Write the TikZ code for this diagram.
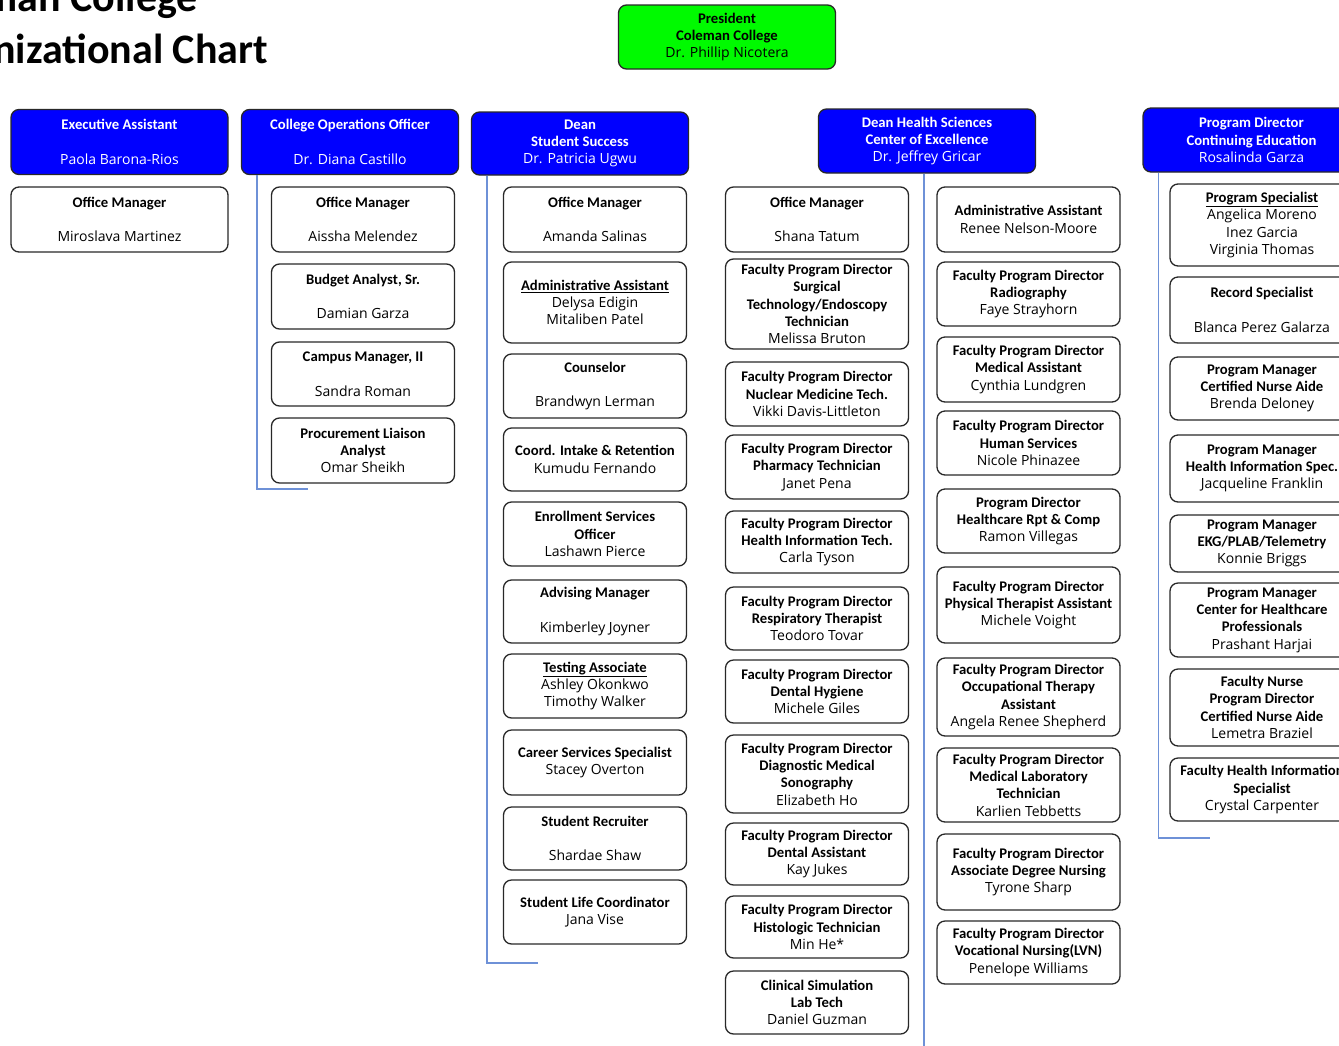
\documentclass[tikz,border=0pt]{standalone}
\usepackage{fontspec}
\setmainfont{Carlito}
\newfontfamily\namefont{Open Sans}
\usetikzlibrary{positioning}
\definecolor{headblue}{RGB}{0,0,255}
\definecolor{presgreen}{RGB}{0,250,0}
\definecolor{linkblue}{RGB}{110,145,215}
\definecolor{boxline}{RGB}{40,40,40}
\newcommand{\nm}[1]{{\namefont\mdseries\fontsize{14}{17.3}\selectfont #1}}
\tikzset{
	card/.style = {draw=boxline, line width=1.3pt, rounded corners=8pt, fill=white, align=center, inner sep=1pt, minimum width=183pt, font=\fontsize{14.7}{17.3}\selectfont\bfseries},
	head/.style = {card, fill=headblue, text=white, minimum width=217pt},
	link/.style = {draw=linkblue, line width=1.3pt},
}

\begin{document}
\begin{tikzpicture}[x=1pt, y=-1pt]
	\useasboundingbox (0,0) rectangle (1339,1045);
	\clip (0,0) rectangle (1339,1045);
	
	% Title
	\node[anchor=base east, inner sep=0pt, font=\fontsize{42}{50}\selectfont\bfseries] (title1) at (198,11) {Coleman College};
	\node[anchor=base east, inner sep=0pt, font=\fontsize{42}{50}\selectfont\bfseries] (title2) at (268,63) {Organizational Chart};
	
	% President
	\node[head, fill=presgreen, text=black, minimum height=64pt] (pres) at (727,37) {President\\Coleman College\\\nm{Dr. Phillip Nicotera}};
	
	% Executive Assistant
	\node[head, minimum height=65pt] (exec) at (119.5,142) {Executive Assistant\\[17.3pt]\nm{Paola Barona-Rios}};
	\node[card, minimum width=217pt, minimum height=65pt] (om1) at (119.5,219.5) {Office Manager\\[17.3pt]\nm{Miroslava Martinez}};
	
	% College Operations
	\node[head, minimum height=65pt] (ops) at (350,142) {College Operations Officer\\[17.3pt]\nm{Dr. Diana Castillo}};
	\node[card, minimum height=65pt] (om2) at (363,219.5) {Office Manager\\[17.3pt]\nm{Aissha Melendez}};
	\node[card, minimum height=65pt] (budget) at (363,296.5) {Budget Analyst, Sr.\\[17.3pt]\nm{Damian Garza}};
	\node[card, minimum height=64pt] (campus) at (363,374) {Campus Manager, II\\[17.3pt]\nm{Sandra Roman}};
	\node[card, minimum height=65pt] (procure) at (363,450.5) {Procurement Liaison\\Analyst\\\nm{Omar Sheikh}};
	
	% Dean Student Success
	\node[head, minimum height=63pt] (dss) at (580,143.5) {Dean\\Student Success\\\nm{Dr. Patricia Ugwu}};
	\node[card, minimum height=65pt] (om3) at (595,219.5) {Office Manager\\[17.3pt]\nm{Amanda Salinas}};
	\node[card, minimum height=81pt] (admin3) at (595,302.5) {\underline{Administrative Assistant}\\\nm{Delysa Edigin}\\\nm{Mitaliben Patel}};
	\node[card, minimum height=64pt] (couns) at (595,386) {Counselor\\[17.3pt]\nm{Brandwyn Lerman}};
	\node[card, minimum height=63pt] (coord) at (595,459.5) {Coord. Intake \& Retention\\\nm{Kumudu Fernando}};
	\node[card, minimum height=64pt] (enroll) at (595,534) {Enrollment Services\\Officer\\\nm{Lashawn Pierce}};
	\node[card, minimum height=63pt] (advise) at (595,611.5) {Advising Manager\\[17.3pt]\nm{Kimberley Joyner}};
	\node[card, minimum height=64pt] (testing) at (595,686) {\underline{Testing Associate}\\\nm{Ashley Okonkwo}\\\nm{Timothy Walker}};
	\node[card, minimum height=65pt] (career) at (595,762.5) {Career Services Specialist\\\nm{Stacey Overton}};
	\node[card, minimum height=63pt] (recruit) at (595,838.5) {Student Recruiter\\[17.3pt]\nm{Shardae Shaw}};
	\node[card, minimum height=64pt] (life) at (595,912) {Student Life Coordinator\\\nm{Jana Vise}};
	
	% Dean Health Sciences
	\node[head, minimum height=64pt] (dhs) at (927,141) {Dean Health Sciences\\Center of Excellence\\\nm{Dr. Jeffrey Gricar}};
	\node[card, minimum height=65pt] (om4) at (817,219.5) {Office Manager\\[17.3pt]\nm{Shana Tatum}};
	\node[card, minimum height=90pt] (surg) at (817,304) {Faculty Program Director\\Surgical\\Technology/Endoscopy\\Technician\\\nm{Melissa Bruton}};
	\node[card, minimum height=64pt] (nuc) at (817,394) {Faculty Program Director\\Nuclear Medicine Tech.\\\nm{Vikki Davis-Littleton}};
	\node[card, minimum height=64pt] (pharm) at (817,467) {Faculty Program Director\\Pharmacy Technician\\\nm{Janet Pena}};
	\node[card, minimum height=62pt] (hit) at (817,542) {Faculty Program Director\\Health Information Tech.\\\nm{Carla Tyson}};
	\node[card, minimum height=63pt] (resp) at (817,618.5) {Faculty Program Director\\Respiratory Therapist\\\nm{Teodoro Tovar}};
	\node[card, minimum height=63pt] (hyg) at (817,691.5) {Faculty Program Director\\Dental Hygiene\\\nm{Michele Giles}};
	\node[card, minimum height=78pt] (sono) at (817,774) {Faculty Program Director\\Diagnostic Medical\\Sonography\\\nm{Elizabeth Ho}};
	\node[card, minimum height=62pt] (dentA) at (817,854) {Faculty Program Director\\Dental Assistant\\\nm{Kay Jukes}};
	\node[card, minimum height=62pt] (histo) at (817,927) {Faculty Program Director\\Histologic Technician\\\nm{Min He*}};
	\node[card, minimum height=63pt] (clin) at (817,1002.5) {Clinical Simulation\\Lab Tech\\\nm{Daniel Guzman}};
	
	\node[card, minimum height=65pt] (admin4) at (1028.5,219.5) {Administrative Assistant\\\nm{Renee Nelson-Moore}};
	\node[card, minimum height=64pt] (radio) at (1028.5,294) {Faculty Program Director\\Radiography\\\nm{Faye Strayhorn}};
	\node[card, minimum height=65pt] (medA) at (1028.5,369.5) {Faculty Program Director\\Medical Assistant\\\nm{Cynthia Lundgren}};
	\node[card, minimum height=64pt] (human) at (1028.5,443) {Faculty Program Director\\Human Services\\\nm{Nicole Phinazee}};
	\node[card, minimum height=64pt] (hcrc) at (1028.5,521) {Program Director\\Healthcare Rpt \& Comp\\\nm{Ramon Villegas}};
	\node[card, minimum height=76pt] (pta) at (1028.5,605) {Faculty Program Director\\Physical Therapist Assistant\\\nm{Michele Voight}};
	\node[card, minimum height=78pt] (ota) at (1028.5,697) {Faculty Program Director\\Occupational Therapy\\Assistant\\\nm{Angela Renee Shepherd}};
	\node[card, minimum height=74pt] (mlt) at (1028.5,785) {Faculty Program Director\\Medical Laboratory\\Technician\\\nm{Karlien Tebbetts}};
	\node[card, minimum height=76pt] (adn) at (1028.5,872) {Faculty Program Director\\Associate Degree Nursing\\\nm{Tyrone Sharp}};
	\node[card, minimum height=63pt] (lvn) at (1028.5,952.5) {Faculty Program Director\\Vocational Nursing(LVN)\\\nm{Penelope Williams}};
	
	% Continuing Education
	\node[head, minimum height=64pt] (pdce) at (1251.5,140) {Program Director\\Continuing Education\\\nm{Rosalinda Garza}};
	\node[card, minimum width=184pt, minimum height=82pt] (spec) at (1262,225) {\underline{Program Specialist}\\\nm{Angelica Moreno}\\\nm{Inez Garcia}\\\nm{Virginia Thomas}};
	\node[card, minimum width=184pt, minimum height=66pt] (record) at (1262,310) {Record Specialist\\[17.3pt]\nm{Blanca Perez Galarza}};
	\node[card, minimum width=184pt, minimum height=63pt] (cna) at (1262,388.5) {Program Manager\\Certified Nurse Aide\\\nm{Brenda Deloney}};
	\node[card, minimum width=184pt, minimum height=67pt] (his) at (1262,468.5) {Program Manager\\Health Information Spec.\\\nm{Jacqueline Franklin}};
	\node[card, minimum width=184pt, minimum height=57pt] (ekg) at (1262,543.5) {Program Manager\\EKG/PLAB/Telemetry\\\nm{Konnie Briggs}};
	\node[card, minimum width=184pt, minimum height=74pt] (chp) at (1262,620) {Program Manager\\Center for Healthcare\\Professionals\\\nm{Prashant Harjai}};
	\node[card, minimum width=184pt, minimum height=77pt] (fnurse) at (1262,707.5) {Faculty Nurse\\Program Director\\Certified Nurse Aide\\\nm{Lemetra Braziel}};
	\node[card, minimum width=184pt, minimum height=63pt] (fhis) at (1262,789.5) {Faculty Health Information\\Specialist\\\nm{Crystal Carpenter}};
	
	% Connections
	\coordinate (opsEnd) at (308,489);
	\coordinate (dssEnd) at (538,963);
	\coordinate (dhsEnd) at (924,1046);
	\coordinate (pdceEnd) at (1210,838);
	\draw[link] ([xshift=16pt]ops.south west) |- (opsEnd);
	\draw[link] ([xshift=16pt]dss.south west) |- (dssEnd);
	\draw[link] ([xshift=-3pt]dhs.south) -- (dhsEnd);
	\draw[link] ([xshift=16pt]pdce.south west) |- (pdceEnd);
	
\end{tikzpicture}
\end{document}
